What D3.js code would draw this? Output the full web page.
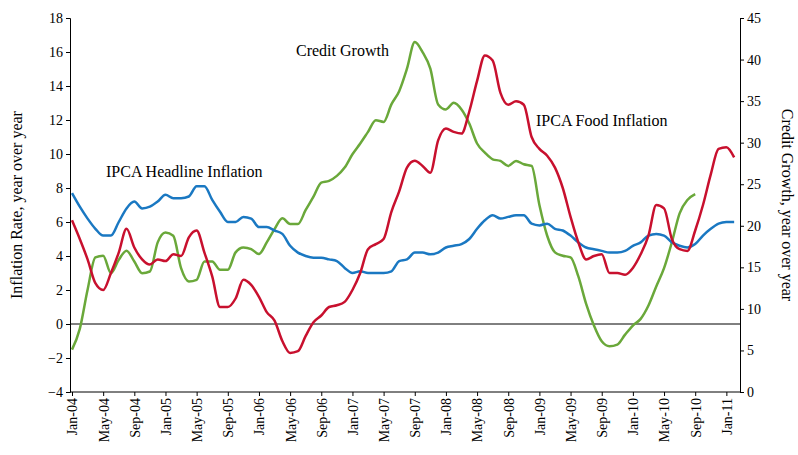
<!DOCTYPE html>
<html><head><meta charset="utf-8">
<script src="https://cdn.jsdelivr.net/npm/d3@7"></script>
<style>body{margin:0;background:#fff}svg{font-family:"Liberation Serif",serif}</style>
</head><body><svg id="c" width="798" height="455"></svg>
<script>
// monthly, starting Jan-04
const headline = [7.7,6.9,6.2,5.6,5.2,5.2,6.0,6.8,7.2,6.8,6.9,7.2,7.6,7.4,7.4,7.5,8.1,8.1,7.3,6.6,6.0,6.0,6.3,6.2,5.7,5.7,5.5,5.3,4.6,4.2,4.0,3.9,3.9,3.8,3.7,3.3,3.0,3.1,3.0,3.0,3.0,3.1,3.7,3.8,4.2,4.2,4.1,4.2,4.5,4.6,4.7,5.0,5.6,6.1,6.4,6.2,6.3,6.4,6.4,5.9,5.8,5.9,5.6,5.5,5.2,4.8,4.5,4.4,4.3,4.2,4.2,4.3,4.6,4.8,5.2,5.3,5.2,4.8,4.6,4.5,4.7,5.2,5.6,5.9,6.0,6.0]
const food = [6.1,5.0,3.8,2.4,2.0,3.0,4.2,5.6,4.5,3.8,3.5,3.8,3.7,4.1,4.0,5.1,5.5,4.2,2.8,1.0,1.0,1.5,2.6,2.3,1.6,0.7,0.2,-1.0,-1.7,-1.6,-0.7,0.1,0.5,1.0,1.1,1.3,2.0,3.0,4.4,4.7,5.0,6.6,7.8,9.2,9.6,9.3,8.9,10.8,11.5,11.3,11.2,12.5,14.3,15.8,15.5,13.6,12.9,13.1,12.9,11.0,10.3,9.9,9.2,8.0,6.3,4.8,3.8,4.0,4.1,3.0,3.0,2.9,3.3,4.1,5.2,7.0,6.8,5.0,4.4,4.3,5.5,7.0,8.8,10.3,10.4,9.8]
const credit = [5.1,7.6,12.3,16.2,16.4,14.3,15.9,17.0,15.7,14.3,14.5,18.0,19.2,18.8,14.9,13.3,13.5,15.7,15.7,14.7,14.7,16.8,17.4,17.2,16.6,18.0,19.6,20.9,20.2,20.2,21.9,23.5,25.2,25.4,26.0,27.0,28.6,29.9,31.3,32.7,32.5,34.6,36.2,38.9,42.1,40.9,38.9,34.6,34.0,34.8,34.0,32.3,29.9,28.8,28.0,27.8,27.2,27.8,27.4,27.2,22.5,18.8,16.8,16.4,16.2,13.9,10.6,8.0,6.1,5.5,5.7,6.9,8.0,8.8,10.4,12.7,14.9,18.0,21.5,23.1,23.8]
const tickLabels = ["Jan-04","May-04","Sep-04","Jan-05","May-05","Sep-05","Jan-06","May-06","Sep-06","Jan-07","May-07","Sep-07","Jan-08","May-08","Sep-08","Jan-09","May-09","Sep-09","Jan-10","May-10","Sep-10","Jan-11"]

const svg = d3.select('#c')
const L = 70, R = 740, T = 18, B = 392
const x = d3.scaleLinear().domain([0, 85]).range([72, 72 + 85 * 7.79])
const yL = d3.scaleLinear().domain([-4, 18]).range([B, T])
const yR = d3.scaleLinear().domain([0, 45]).range([B, T])

svg.append('g').attr('transform', `translate(${L},0)`)
  .call(d3.axisLeft(yL).ticks(11).tickSizeOuter(0).tickSize(4))
svg.append('g').attr('transform', `translate(${R},0)`)
  .call(d3.axisRight(yR).ticks(9).tickSizeOuter(0).tickSize(4))
svg.append('g').attr('transform', `translate(0,${B})`)
  .call(d3.axisBottom(x).tickValues(d3.range(0, 85, 4)).tickFormat((d, i) => tickLabels[i]).tickSizeOuter(0).tickSize(4))
  .call(g => g.select('.domain').attr('d', `M${L},0H${R}`))
  .selectAll('text').attr('transform', 'rotate(-90)').attr('text-anchor', 'end')
  .attr('x', -6).attr('y', 0).attr('dy', '0.35em')
svg.selectAll('.tick text').attr('font-size', 14).attr('font-family', 'Liberation Serif')
svg.append('line').attr('x1', L).attr('x2', R).attr('y1', yL(0)).attr('y2', yL(0)).attr('stroke', '#000')

const line = (ys) => d3.line().x((d, i) => x(i)).y(d => ys(d)).curve(d3.curveMonotoneX)
const series = [[credit, yR, '#6aa83a'], [headline, yL, '#1a78c2'], [food, yL, '#c8102e']]
series.forEach(([d, s, c]) => svg.append('path').datum(d).attr('fill', 'none').attr('stroke', c).attr('stroke-width', 2.5).attr('d', line(s)))

const lab = (t, xx, yy) => svg.append('text').attr('x', xx).attr('y', yy).attr('font-size', 16).text(t)
lab('Credit Growth', 296, 56)
lab('IPCA Food Inflation', 536, 126)
lab('IPCA Headline Inflation', 106, 177)
svg.append('text').attr('transform', `translate(22,${(T + B) / 2}) rotate(-90)`).attr('text-anchor', 'middle').attr('font-size', 16).text('Inflation Rate, year over year')
svg.append('text').attr('transform', `translate(782,${(T + B) / 2}) rotate(90)`).attr('text-anchor', 'middle').attr('font-size', 16).text('Credit Growth, year over year')
</script></body></html>
